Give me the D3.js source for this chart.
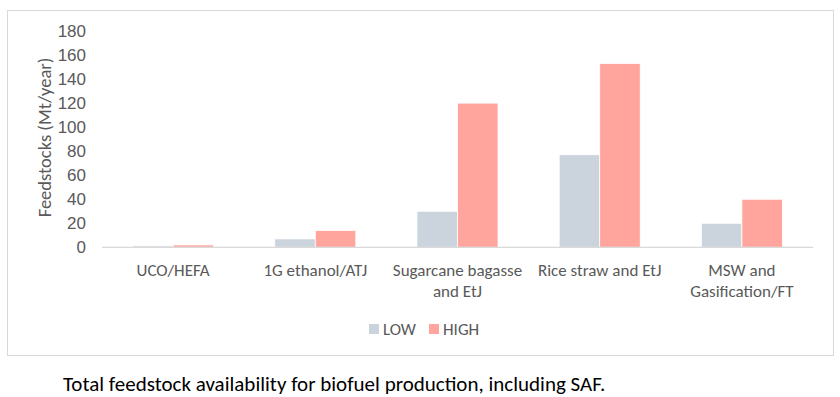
<!DOCTYPE html>
<html><head><meta charset="utf-8">
<script src="https://cdn.jsdelivr.net/npm/d3@7"></script>
<style>
html,body{margin:0;padding:0;background:#fff;}
svg{display:block;font-family:Carlito,"Liberation Sans Narrow","Open Sans",sans-serif;}
</style></head>
<body>
<svg id="chart" width="840" height="397"></svg>
<script>
const categories = [["UCO/HEFA"],["1G ethanol/ATJ"],["Sugarcane bagasse","and EtJ"],["Rice straw and EtJ"],["MSW and","Gasification/FT"]];
const seriesNames = ["LOW","HIGH"];
const lowValues = [1.2, 7, 30, 77, 20];
const highValues = [2, 14, 120, 153, 40];
const yTicks = [0,20,40,60,80,100,120,140,160,180];
const colors = {LOW:"#cbd3dd", HIGH:"#ffa59e"};

const svg = d3.select("#chart");
svg.append("rect").attr("x",7.5).attr("y",10.5).attr("width",826).attr("height",345)
  .attr("fill","#fff").attr("stroke","#d9d9d9").attr("stroke-width",1);

const keys = categories.map(c=>c.join(" "));
const x = d3.scaleBand().domain(keys).range([102,813]).paddingInner(0.43).paddingOuter(0.215);
const xs = d3.scaleBand().domain(seriesNames).range([0,x.bandwidth()]);
const y = d3.scaleLinear().domain([0,180]).range([247.3,31]);

const data = keys.map((k,i)=>({key:k, LOW:lowValues[i], HIGH:highValues[i]}));

const g = svg.append("g");
g.selectAll("g.grp").data(data).join("g").attr("class","grp")
  .attr("transform",d=>`translate(${x(d.key)},0)`)
  .selectAll("rect").data(d=>seriesNames.map(s=>({s,v:d[s]}))).join("rect")
  .attr("x",d=>xs(d.s)).attr("width",xs.bandwidth())
  .attr("y",d=>y(d.v)).attr("height",d=>y(0)-y(d.v))
  .attr("fill",d=>colors[d.s]).attr("stroke","#fff").attr("stroke-width",0.8);

// baseline
svg.append("line").attr("x1",102).attr("x2",813).attr("y1",y(0)).attr("y2",y(0))
  .attr("stroke","#d9d9d9").attr("stroke-width",1.2);

// y axis
const yAxis = d3.axisLeft(y).tickValues(yTicks).tickSize(0).tickPadding(0);
const ya = svg.append("g").attr("transform","translate(86,0)").call(yAxis);
ya.select(".domain").remove();
ya.selectAll("text").attr("font-size",17).attr("fill","#595959").attr("font-family",null);

// x labels
const xl = svg.append("g");
categories.forEach((lines,i)=>{
  const t = xl.append("text").attr("x",x(keys[i])+x.bandwidth()/2).attr("y",276)
    .attr("text-anchor","middle").attr("font-size",17).attr("fill","#595959");
  lines.forEach((ln,j)=>t.append("tspan").attr("x",x(keys[i])+x.bandwidth()/2).attr("dy",j?21:0).text(ln));
});

// y title
svg.append("text").attr("transform","translate(50.5,137.5) rotate(-90)")
  .attr("text-anchor","middle").attr("font-size",18.5).attr("fill","#595959")
  .text("Feedstocks (Mt/year)");

// legend
const legend = [{s:"LOW",x:369,tx:383},{s:"HIGH",x:429,tx:443}];
legend.forEach(l=>{
  svg.append("rect").attr("x",l.x).attr("y",324).attr("width",10).attr("height",10).attr("fill",colors[l.s]);
  svg.append("text").attr("x",l.tx).attr("y",335).attr("font-size",17).attr("fill","#595959").text(l.s);
});

// caption
svg.append("text").attr("x",63).attr("y",391).attr("font-size",21).attr("fill","#000")
  .text("Total feedstock availability for biofuel production, including SAF.");
</script>
</body></html>
